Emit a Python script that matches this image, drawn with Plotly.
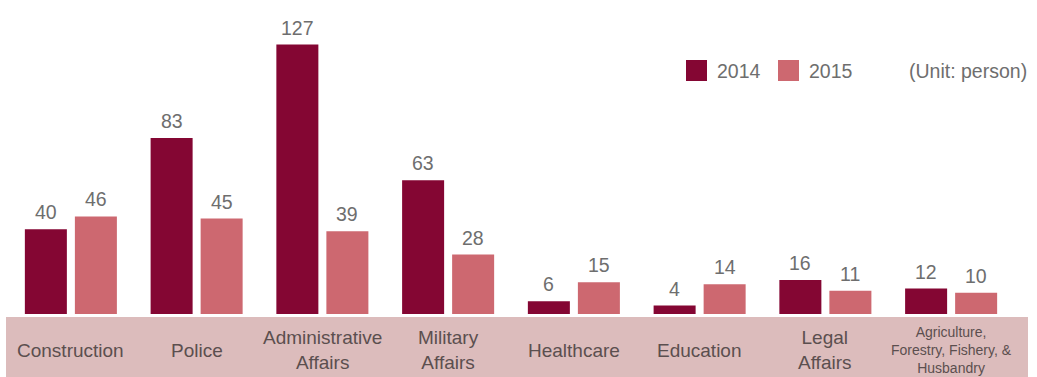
import plotly.graph_objects as go

# Personnel counts by sector
categories = [
    "Construction", "Police", "Administrative<br>Affairs", "Military<br>Affairs",
    "Healthcare", "Education", "Legal<br>Affairs",
    "Agriculture,<br>Forestry, Fishery, &<br>Husbandry",
]
series_names = ["2014", "2015"]
values_2014 = [40, 83, 127, 63, 6, 4, 16, 12]
values_2015 = [46, 45, 39, 28, 15, 14, 11, 10]
unit_note = "(Unit: person)"

COLOR_2014 = "#840633"
COLOR_2015 = "#cd6870"
BAND_COLOR = "#dcbcbc"
LABEL_COLOR = "#6e6e6e"
CAT_COLOR = "#5b4f4f"
FONT = "Arial, Liberation Sans, sans-serif"

W, H = 1037, 377
M_L, M_R, M_T, M_B = 8, 23, 0, 63
PW, PH = W - M_L - M_R, H - M_T - M_B
BARGAP = 0.2045
BARGROUPGAP = 0.16
Y_MAX = 148


def px_x(p):
    return (p - M_L) / PW


def px_y(p):
    return (H - M_B - p) / PH


x_idx = list(range(len(categories)))

fig = go.Figure()
for name, vals, col in [(series_names[0], values_2014, COLOR_2014),
                        (series_names[1], values_2015, COLOR_2015)]:
    fig.add_trace(go.Bar(x=x_idx, y=vals, name=name, marker_color=col,
                         marker_line_width=0, showlegend=False))

# value labels above each bar
half = (1 - BARGAP) / 4
annotations = []
for k, vals in enumerate([values_2014, values_2015]):
    off = -half if k == 0 else half
    for i, v in enumerate(vals):
        annotations.append(dict(
            x=i + off, y=v, xref="x", yref="y", text=str(v), showarrow=False,
            yanchor="bottom", yshift=4,
            font=dict(family=FONT, size=19.5, color=LABEL_COLOR)))

# category labels inside the band
for i, c in enumerate(categories):
    lines = c.count("<br>") + 1
    size = 14 if lines > 2 else 19
    annotations.append(dict(
        x=i, y=px_y(350), xref="x", yref="paper", text=c, showarrow=False,
        yanchor="middle", xanchor="center",
        font=dict(family=FONT, size=size, color=CAT_COLOR)))

# legend
shapes = [dict(type="rect", xref="paper", yref="paper",
               x0=px_x(6), x1=px_x(1028), y0=px_y(377), y1=px_y(317),
               fillcolor=BAND_COLOR, line_width=0, layer="below")]
legend_items = [(series_names[0], COLOR_2014, 686), (series_names[1], COLOR_2015, 778)]
for name, col, sx in legend_items:
    shapes.append(dict(type="rect", xref="paper", yref="paper",
                       x0=px_x(sx), x1=px_x(sx + 21), y0=px_y(81), y1=px_y(60),
                       fillcolor=col, line_width=0))
    annotations.append(dict(x=px_x(sx + 29), y=px_y(70.5), xref="paper", yref="paper",
                            text=name, showarrow=False, xanchor="left", yanchor="middle",
                            font=dict(family=FONT, size=19.5, color=LABEL_COLOR)))
annotations.append(dict(x=px_x(1029), y=px_y(70.5), xref="paper", yref="paper",
                        text=unit_note, showarrow=False, xanchor="right", yanchor="middle",
                        font=dict(family=FONT, size=19.5, color=LABEL_COLOR)))

fig.update_layout(
    width=W, height=H,
    margin=dict(l=M_L, r=M_R, t=M_T, b=M_B),
    barmode="group", bargap=BARGAP, bargroupgap=BARGROUPGAP,
    plot_bgcolor="white", paper_bgcolor="white",
    xaxis=dict(range=[-0.5, len(categories) - 0.5], showticklabels=False,
               showgrid=False, zeroline=False, showline=False, ticks=""),
    yaxis=dict(range=[0, Y_MAX], visible=False, showgrid=False, zeroline=False),
    annotations=annotations, shapes=shapes,
    font=dict(family=FONT),
)

fig.write_html("out.html")
